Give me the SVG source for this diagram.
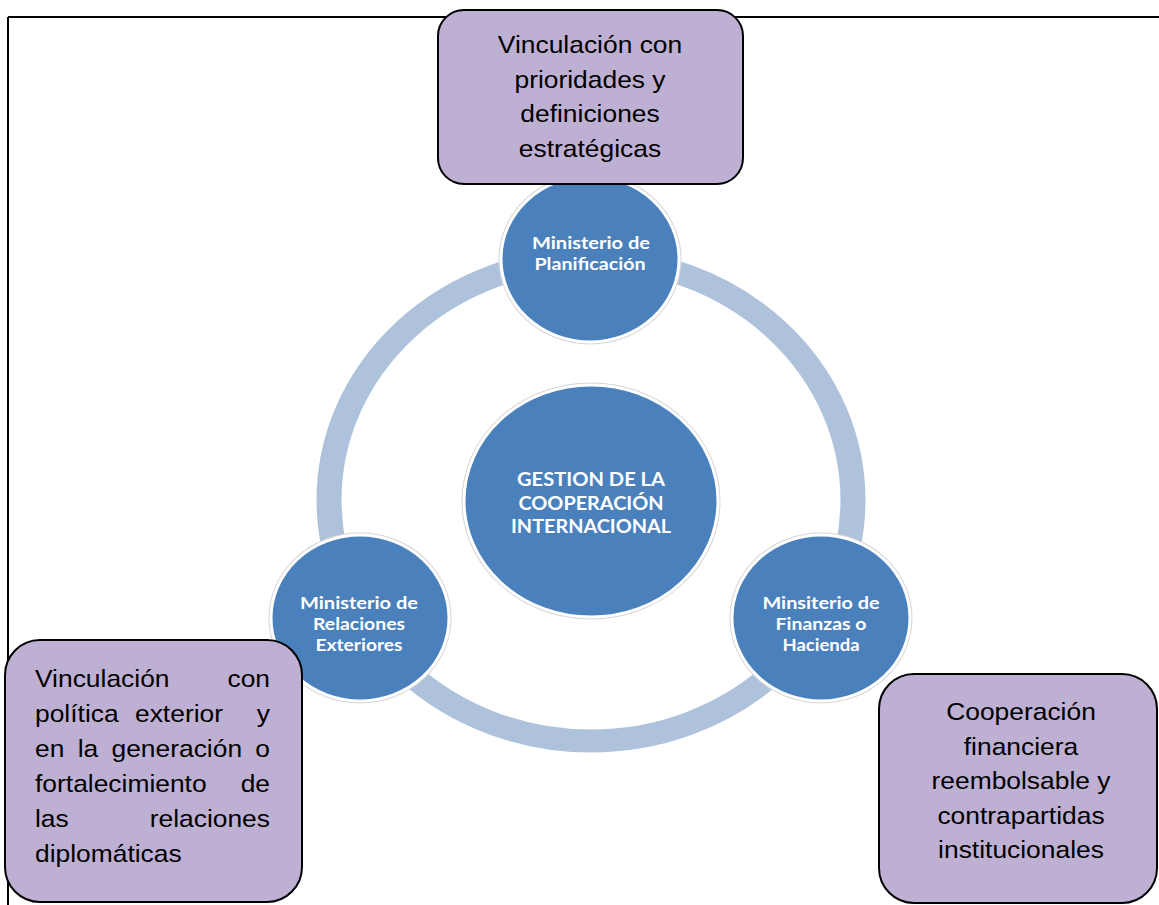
<svg xmlns="http://www.w3.org/2000/svg" width="1159" height="905" viewBox="0 0 1159 905">
<style>
.frame{stroke:#000;stroke-width:2;fill:none}
.ring{fill:none;stroke:#AEC2DC;stroke-width:23}
.halo{fill:none;stroke:#d6d6d6;stroke-width:5}
.node{fill:#4A81BD;stroke:#fff;stroke-width:3}
.ct{font-family:Lato,"Open Sans",sans-serif;font-weight:bold;fill:#fff;text-anchor:middle}
.box{fill:#BEB0D3;stroke:#000;stroke-width:2}
.bt{font-family:"Liberation Sans",Arial,sans-serif;font-size:24px;fill:#000}
.m{text-anchor:middle}
.e{text-anchor:end}
</style>
<rect width="1159" height="905" fill="#fff"/>
<g id="frame"><path class="frame" d="M8,17 H1159 M8,17 V905"/></g>
<g id="connectors">
<circle class="ring" cx="0" cy="0" r="241" transform="translate(591,500) scale(1.087,1)"/>
</g>
<g id="center">
<ellipse class="halo" cx="591" cy="501" rx="127" ry="116"/>
<ellipse class="node" cx="591" cy="501" rx="127" ry="116"/>
<text class="ct" font-size="19.5" x="591" y="486" textLength="148" lengthAdjust="spacingAndGlyphs">GESTION DE LA</text>
<text class="ct" font-size="19.5" x="591" y="510" textLength="145" lengthAdjust="spacingAndGlyphs">COOPERACIÓN</text>
<text class="ct" font-size="19.5" x="591" y="533" textLength="160" lengthAdjust="spacingAndGlyphs">INTERNACIONAL</text>
</g>
<g id="planificacion">
<ellipse class="halo" cx="590" cy="259" rx="89" ry="83"/>
<ellipse class="node" cx="590" cy="259" rx="89" ry="83"/>
<text class="ct" font-size="17" x="591" y="249" textLength="118" lengthAdjust="spacingAndGlyphs">Ministerio de</text>
<text class="ct" font-size="17" x="590" y="270" textLength="111" lengthAdjust="spacingAndGlyphs">Planificación</text>
</g>
<g id="relaciones">
<ellipse class="halo" cx="360" cy="618" rx="89" ry="83"/>
<ellipse class="node" cx="360" cy="618" rx="89" ry="83"/>
<text class="ct" font-size="17" x="359" y="609" textLength="118" lengthAdjust="spacingAndGlyphs">Ministerio de</text>
<text class="ct" font-size="17" x="359" y="630" textLength="92" lengthAdjust="spacingAndGlyphs">Relaciones</text>
<text class="ct" font-size="17" x="359" y="651" textLength="87" lengthAdjust="spacingAndGlyphs">Exteriores</text>
</g>
<g id="finanzas">
<ellipse class="halo" cx="821" cy="618" rx="89" ry="83"/>
<ellipse class="node" cx="821" cy="618" rx="89" ry="83"/>
<text class="ct" font-size="17" x="821" y="609" textLength="117" lengthAdjust="spacingAndGlyphs">Minsiterio de</text>
<text class="ct" font-size="17" x="821" y="630" textLength="91" lengthAdjust="spacingAndGlyphs">Finanzas o</text>
<text class="ct" font-size="17" x="821" y="651" textLength="77" lengthAdjust="spacingAndGlyphs">Hacienda</text>
</g>
<g id="box-top">
<rect class="box" x="438" y="10" width="305" height="174" rx="26"/>
<text class="bt m" transform="translate(590,53) scale(1.1,1)">Vinculación con</text>
<text class="bt m" transform="translate(590,88) scale(1.1,1)">prioridades y</text>
<text class="bt m" transform="translate(590,122) scale(1.1,1)">definiciones</text>
<text class="bt m" transform="translate(590,157) scale(1.1,1)">estratégicas</text>
</g>
<g id="box-left">
<rect class="box" x="5" y="640" width="297" height="262" rx="35"/>
<text class="bt" transform="translate(35,687) scale(1.1,1)">Vinculación</text>
<text class="bt e" transform="translate(270,687) scale(1.1,1)">con</text>
<text class="bt" transform="translate(35,722) scale(1.1,1)">política</text>
<text class="bt" transform="translate(135,722) scale(1.1,1)">exterior</text>
<text class="bt e" transform="translate(270,722) scale(1.1,1)">y</text>
<text class="bt" transform="translate(35,757) scale(1.1,1)">en</text>
<text class="bt" transform="translate(77.7,757) scale(1.1,1)">la</text>
<text class="bt" transform="translate(111.5,757) scale(1.1,1)">generación</text>
<text class="bt e" transform="translate(270,757) scale(1.1,1)">o</text>
<text class="bt" transform="translate(35,792) scale(1.1,1)">fortalecimiento</text>
<text class="bt e" transform="translate(270,792) scale(1.1,1)">de</text>
<text class="bt" transform="translate(35,827) scale(1.1,1)">las</text>
<text class="bt e" transform="translate(270,827) scale(1.1,1)">relaciones</text>
<text class="bt" transform="translate(35,862) scale(1.1,1)">diplomáticas</text>
</g>
<g id="box-right">
<rect class="box" x="879" y="674" width="278" height="229" rx="35"/>
<text class="bt m" transform="translate(1021,720) scale(1.1,1)">Cooperación</text>
<text class="bt m" transform="translate(1021,755) scale(1.1,1)">financiera</text>
<text class="bt m" transform="translate(1021,789) scale(1.1,1)">reembolsable y</text>
<text class="bt m" transform="translate(1021,824) scale(1.1,1)">contrapartidas</text>
<text class="bt m" transform="translate(1021,858) scale(1.1,1)">institucionales</text>
</g>
</svg>
